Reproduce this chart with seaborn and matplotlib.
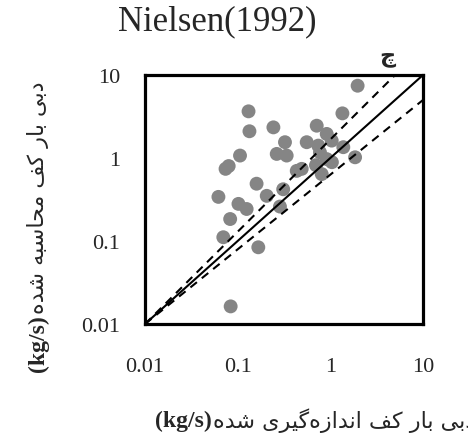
import matplotlib
matplotlib.use("Agg")
import matplotlib.pyplot as plt
import seaborn as sns
import pandas as pd

# ---- data ----
measured = [1.97, 0.131, 0.134, 0.243, 1.35, 0.713, 0.914, 0.324, 0.556, 0.741,
            1.035, 1.38, 1.85, 0.264, 0.338, 0.914, 0.491, 0.807, 0.106, 0.080,
            0.074, 0.434, 0.160, 0.206, 0.310, 0.062, 0.102, 0.125, 0.286, 0.083,
            0.070, 0.167, 0.084, 0.70, 1.04, 0.773]
computed = [7.43, 3.65, 2.10, 2.34, 3.45, 2.45, 1.95, 1.55, 1.55, 1.41,
            1.62, 1.35, 1.02, 1.12, 1.07, 0.97, 0.74, 0.64, 1.07, 0.80,
            0.74, 0.70, 0.49, 0.35, 0.42, 0.34, 0.28, 0.243, 0.26, 0.184,
            0.111, 0.084, 0.0163, 0.82, 0.89, 1.17]
# reference lines (end points)
perfect_x = [0.01, 10]
perfect_y = [0.01, 10]
upper_x = [0.01, 5]
upper_y = [0.01, 10]
lower_x = [0.01, 10]
lower_y = [0.01, 5]
axis_lim = [0.01, 10]
tick_vals = [0.01, 0.1, 1, 10]
tick_labels = ["0.01", "0.1", "1", "10"]
title = "Nielsen(1992)"
panel_tag = "چ"
xlabel_fa = "دبی بار کف اندازه‌گیری شده"
ylabel_fa = "دبی بار کف محاسبه شده"
unit = "(kg/s)"

# ---- minimal Persian shaping (matplotlib has no bidi/shaping) ----
FORMS = {
    'ا': ('\uFE8D', '\uFE8E'),
    'ب': ('\uFE8F', '\uFE90', '\uFE91', '\uFE92'),
    'د': ('\uFEA9', '\uFEAA'),
    'ر': ('\uFEAD', '\uFEAE'),
    'ز': ('\uFEAF', '\uFEB0'),
    'س': ('\uFEB1', '\uFEB2', '\uFEB3', '\uFEB4'),
    'ش': ('\uFEB5', '\uFEB6', '\uFEB7', '\uFEB8'),
    'ح': ('\uFEA1', '\uFEA2', '\uFEA3', '\uFEA4'),
    'ف': ('\uFED1', '\uFED2', '\uFED3', '\uFED4'),
    'م': ('\uFEE1', '\uFEE2', '\uFEE3', '\uFEE4'),
    'ن': ('\uFEE5', '\uFEE6', '\uFEE7', '\uFEE8'),
    'ه': ('\uFEE9', '\uFEEA', '\uFEEB', '\uFEEC'),
    'ک': ('\uFB8E', '\uFB8F', '\uFB90', '\uFB91'),
    'گ': ('\uFB92', '\uFB93', '\uFB94', '\uFB95'),
    'ی': ('\uFBFC', '\uFBFD', '\uFBFE', '\uFBFF'),
}


def shape(s):
    out = []
    for i, c in enumerate(s):
        if c not in FORMS:
            out.append(c)
            continue
        f = FORMS[c]
        prev = s[i - 1] if i > 0 else None
        nxt = s[i + 1] if i + 1 < len(s) else None
        pj = prev in FORMS and len(FORMS[prev]) == 4
        nj = len(f) == 4 and nxt in FORMS
        if pj and nj:
            out.append(f[3])
        elif pj:
            out.append(f[1])
        elif nj:
            out.append(f[2])
        else:
            out.append(f[0])
    return ''.join(reversed([ch for ch in out if ch != '\u200c']))


sns.set_style("white")
plt.rcParams['font.family'] = ['Liberation Serif', 'DejaVu Sans']

W, H = 468, 439
fig = plt.figure(figsize=(W / 100, H / 100), dpi=100)
ax = fig.add_axes([145 / W, 1 - 325 / H, (423 - 145) / W, (325 - 76) / H])

df = pd.DataFrame({"measured": measured, "computed": computed})
sns.scatterplot(data=df, x="measured", y="computed", ax=ax, color="#858585",
                s=100, edgecolor="none", linewidth=0, zorder=2, legend=False)

ax.plot(perfect_x, perfect_y, color="black", lw=1.5, ls="-", zorder=3)
for lx, ly in ((upper_x, upper_y), (lower_x, lower_y)):
    ax.plot(lx, ly, color="black", lw=1.5, ls=(0, (4, 3)), zorder=3)

ax.set_xscale("log")
ax.set_yscale("log")
ax.set_xlim(axis_lim)
ax.set_ylim(axis_lim)
ax.set_xticks(tick_vals, tick_labels)
ax.set_yticks(tick_vals, tick_labels)
ax.minorticks_off()
ax.tick_params(axis="x", length=0, pad=24, labelsize=16)
ax.tick_params(axis="y", length=0, pad=18, labelsize=16)
ax.set_xlabel("")
ax.set_ylabel("")
for sp in ax.spines.values():
    sp.set_visible(True)
    sp.set_linewidth(2.3)
    sp.set_color("black")

fig.text(217 / W, 1 - 22 / H, title, ha="center", va="center", fontsize=25,
         family="Liberation Serif")
fig.text(387 / W, 1 - 57 / H, panel_tag, ha="center", va="center", fontsize=16,
         fontweight="bold", family="DejaVu Sans")

# x label: bold unit followed by the Persian words (runs off the right edge as in the reference)
ux = fig.text(155 / W, 1 - 421 / H, unit, ha="left", va="center", fontsize=17,
              fontweight="bold", family="Liberation Serif")
fig.draw_without_rendering()
bb = ux.get_window_extent()
fig.text((bb.x1 + 1) / W, (bb.y0 + bb.y1) / 2 / H, shape(xlabel_fa), ha="left",
         va="center", fontsize=16, family="DejaVu Sans")

# y label
uy = fig.text(38 / W, 1 - 372 / H, unit, ha="center", va="bottom", rotation=90,
              fontsize=17, fontweight="bold", family="Liberation Serif")
fig.draw_without_rendering()
bb = uy.get_window_extent()
fig.text((bb.x0 + bb.x1) / 2 / W, (bb.y1 + 1) / H, shape(ylabel_fa), ha="center",
         va="bottom", rotation=90, fontsize=16, family="DejaVu Sans")

fig.savefig("out.png", dpi=100)
